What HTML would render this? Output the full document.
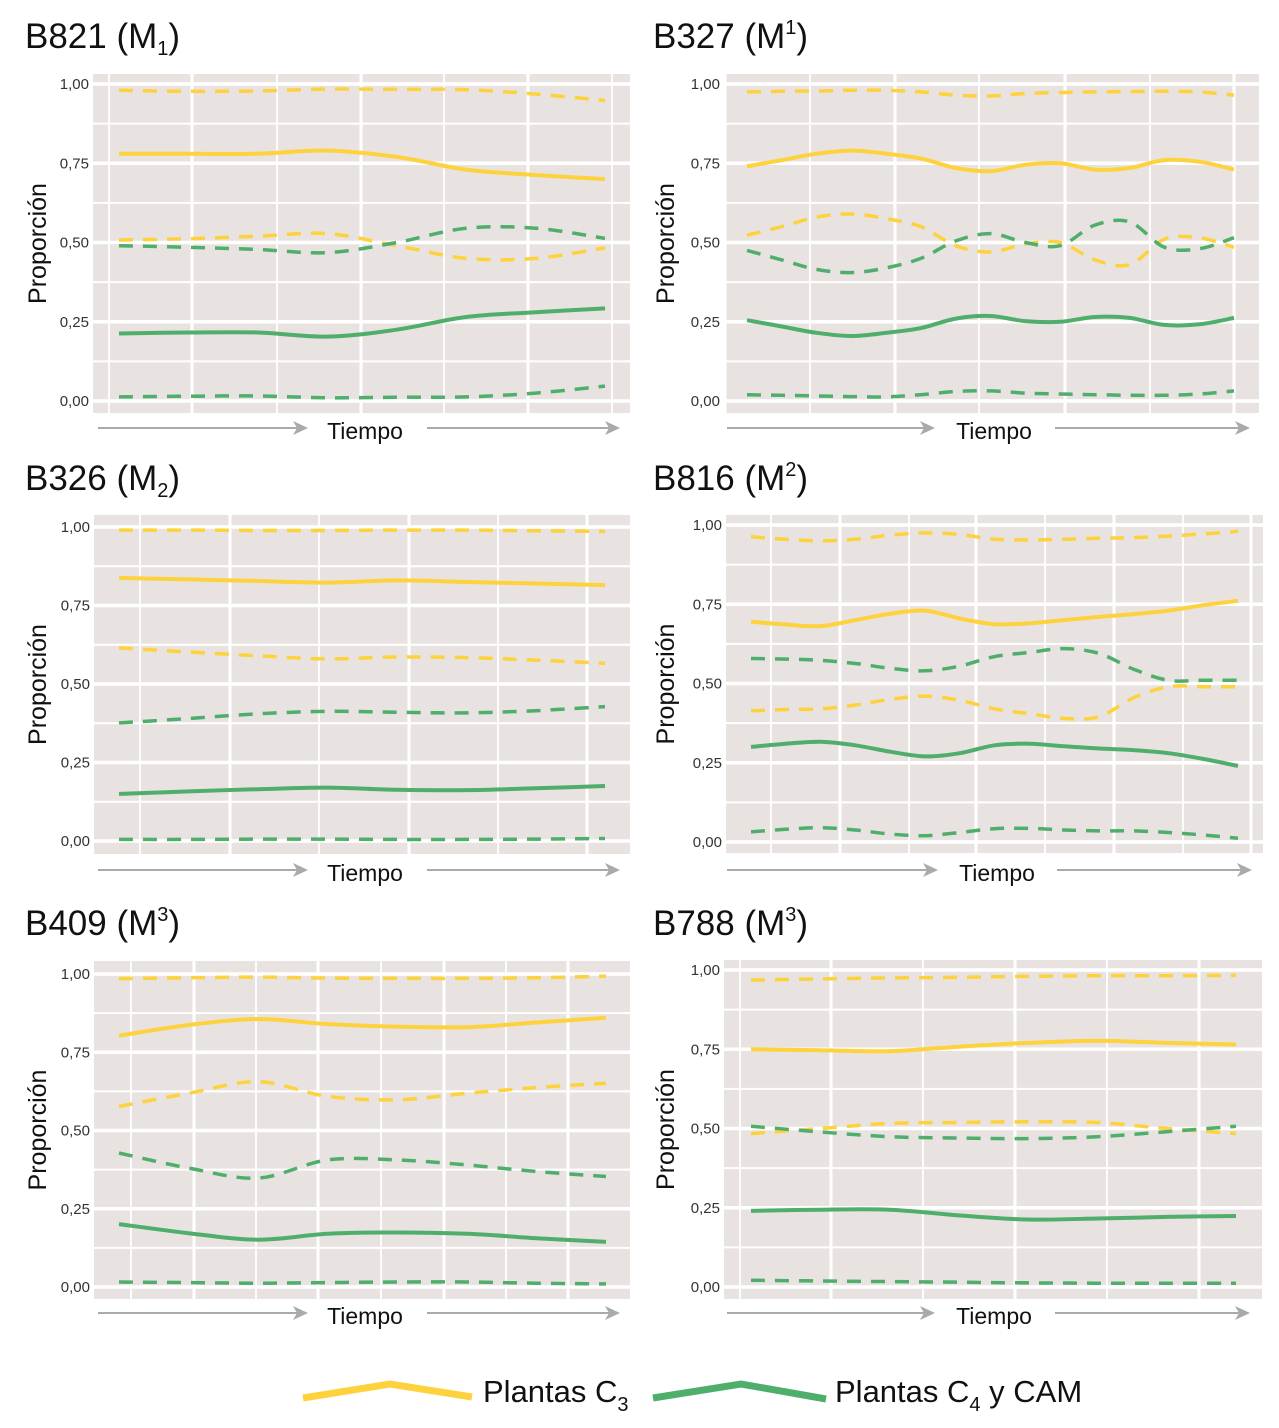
<!DOCTYPE html>
<html><head><meta charset="utf-8">
<style>
html,body{margin:0;padding:0;background:#fff;}
svg{display:block;font-family:"Liberation Sans Narrow","Liberation Sans",sans-serif;}
</style></head>
<body>
<svg id="chart" width="1279" height="1428" viewBox="0 0 1279 1428" xmlns="http://www.w3.org/2000/svg">
<g>
  <polyline points="303,1398 390,1384 472,1397" fill="none" stroke="#fdd23d" stroke-width="7"/>
  <text x="483" y="1402" font-size="31" fill="#111">Plantas C<tspan font-size="20" dy="9">3</tspan></text>
  <polyline points="653,1398 741,1384 826,1399" fill="none" stroke="#4fae6b" stroke-width="7"/>
  <text x="835" y="1402" font-size="31" fill="#111">Plantas C<tspan font-size="20" dy="9">4</tspan><tspan dy="-9"> y CAM</tspan></text>
</g>
</svg>
<script>
// ---- data (values 0..1 sampled at equal time steps) ----
const ticks = [0, 0.25, 0.5, 0.75, 1];
const tickLabels = ["0,00","0,25","0,50","0,75","1,00"];

const p1C3Up   = [.98,.977,.978,.984,.983,.982,.968,.948];
const p1C3Mean = [.78,.78,.78,.79,.77,.73,.713,.70];
const p1C3Low  = [.508,.512,.52,.528,.49,.45,.45,.483];
const p1C4Up   = [.49,.485,.478,.468,.50,.545,.545,.513];
const p1C4Mean = [.213,.216,.216,.203,.225,.265,.28,.292];
const p1C4Low  = [.013,.015,.016,.01,.012,.013,.025,.047];

const p2C3Up   = [.975,.977,.978,.98,.98,.975,.965,.962,.97,.973,.975,.976,.977,.975,.965];
const p2C3Mean = [.74,.76,.78,.79,.78,.765,.735,.725,.745,.75,.73,.735,.76,.755,.73];
const p2C3Low  = [.523,.55,.58,.59,.575,.55,.49,.47,.495,.50,.445,.43,.51,.515,.485];
const p2C4Up   = [.475,.445,.415,.405,.42,.45,.505,.528,.50,.49,.555,.565,.485,.48,.515];
const p2C4Mean = [.255,.235,.215,.205,.215,.23,.26,.268,.252,.25,.265,.262,.24,.242,.262];
const p2C4Low  = [.02,.018,.016,.014,.013,.02,.03,.032,.025,.022,.02,.018,.018,.022,.032];

const p3C3Up   = [.99,.99,.989,.989,.99,.99,.988,.986];
const p3C3Mean = [.838,.833,.828,.823,.83,.825,.82,.815];
const p3C3Low  = [.615,.602,.59,.58,.586,.584,.576,.566];
const p3C4Up   = [.376,.39,.405,.413,.41,.408,.415,.428];
const p3C4Mean = [.15,.158,.165,.17,.163,.162,.168,.175];
const p3C4Low  = [.005,.005,.006,.006,.005,.005,.006,.008];

const p4C3Up   = [.963,.955,.95,.955,.968,.975,.97,.955,.953,.955,.958,.96,.965,.972,.98];
const p4C3Mean = [.695,.686,.681,.70,.72,.73,.705,.687,.69,.70,.71,.719,.73,.747,.761];
const p4C3Low  = [.414,.418,.42,.432,.45,.46,.447,.42,.405,.39,.395,.455,.49,.49,.49];
const p4C4Up   = [.579,.577,.573,.563,.548,.54,.555,.585,.598,.61,.595,.545,.51,.51,.51];
const p4C4Mean = [.30,.31,.316,.305,.285,.27,.28,.305,.31,.302,.295,.29,.28,.262,.24];
const p4C4Low  = [.032,.04,.045,.038,.025,.02,.03,.042,.043,.038,.035,.035,.03,.022,.012];

const p5C3Up   = [.985,.988,.99,.987,.986,.986,.988,.993];
const p5C3Mean = [.803,.837,.856,.84,.832,.83,.845,.86];
const p5C3Low  = [.577,.619,.656,.609,.598,.619,.637,.651];
const p5C4Up   = [.428,.38,.348,.406,.406,.39,.369,.353];
const p5C4Mean = [.201,.172,.151,.17,.174,.17,.156,.144];
const p5C4Low  = [.016,.014,.012,.014,.016,.016,.012,.01];

const p6C3Up   = [.968,.972,.975,.977,.98,.982,.982,.983];
const p6C3Mean = [.75,.747,.744,.758,.77,.777,.77,.765];
const p6C3Low  = [.484,.50,.516,.519,.521,.519,.50,.484];
const p6C4Up   = [.507,.489,.474,.47,.468,.474,.49,.507];
const p6C4Mean = [.24,.244,.244,.226,.213,.216,.221,.224];
const p6C4Low  = [.021,.019,.017,.015,.013,.012,.012,.012];

const titles = ["B821","B327","B326","B816","B409","B788"];
const toothLabels = [["M","1","sub"],["M","1","sup"],["M","2","sub"],["M","2","sup"],["M","3","sup"],["M","3","sup"]];

// ---- layout ----
const layout = [
 {tx:25, ty:48, bx0:93, bx1:630, by0:74, by1:413, y1:84, y0:401, dx0:119, dx1:605, vl:[109,192,277,361,444,528,612], vmajor:1, ay:428, a1:[98,308], a2:[427,620], tc:365, data:[p1C3Up,p1C3Mean,p1C3Low,p1C4Up,p1C4Mean,p1C4Low]},
 {tx:653, ty:48, bx0:724, bx1:1259, by0:74, by1:413, y1:84, y0:401, dx0:747, dx1:1234, vl:[725,810,895,979,1065,1150,1234], vmajor:0, ay:428, a1:[727,935], a2:[1055,1250], tc:994, data:[p2C3Up,p2C3Mean,p2C3Low,p2C4Up,p2C4Mean,p2C4Low]},
 {tx:25, ty:490, bx0:94, bx1:630, by0:515, by1:854, y1:527, y0:841, dx0:119, dx1:605, vl:[140,230,319,409,498,587], vmajor:1, ay:870, a1:[98,308], a2:[427,620], tc:365, data:[p3C3Up,p3C3Mean,p3C3Low,p3C4Up,p3C4Mean,p3C4Low]},
 {tx:653, ty:490, bx0:726, bx1:1263, by0:515, by1:853, y1:525, y0:842, dx0:751, dx1:1238, vl:[771,840,909,976,1045,1114,1183,1251], vmajor:1, ay:870, a1:[727,938], a2:[1057,1252], tc:997, data:[p4C3Up,p4C3Mean,p4C3Low,p4C4Up,p4C4Mean,p4C4Low]},
 {tx:25, ty:935, bx0:94, bx1:630, by0:961, by1:1299, y1:974, y0:1287, dx0:119, dx1:606, vl:[131,194,256,318,381,444,506,568], vmajor:1, ay:1313, a1:[98,308], a2:[427,620], tc:365, data:[p5C3Up,p5C3Mean,p5C3Low,p5C4Up,p5C4Mean,p5C4Low]},
 {tx:653, ty:935, bx0:724, bx1:1262, by0:960, by1:1299, y1:970, y0:1287, dx0:751, dx1:1236, vl:[740,831,923,1015,1107,1199], vmajor:1, ay:1313, a1:[727,935], a2:[1055,1250], tc:994, data:[p6C3Up,p6C3Mean,p6C3Low,p6C4Up,p6C4Mean,p6C4Low]}
];
const seriesNames = ["c3-upper-bound","c3-mean","c3-lower-bound","c4-upper-bound","c4-mean","c4-lower-bound"];
const YEL="#fdd23d", GRN="#4fae6b";

const NS="http://www.w3.org/2000/svg";
const svg=document.getElementById('chart');
function mk(tag, parent){const e=document.createElementNS(NS,tag);parent.appendChild(e);return e;}

function smoothPath(pts){
  let d="M"+pts[0][0].toFixed(1)+","+pts[0][1].toFixed(1);
  for(let i=0;i<pts.length-1;i++){
    const p0=pts[Math.max(0,i-1)],p1=pts[i],p2=pts[i+1],p3=pts[Math.min(pts.length-1,i+2)];
    const c1x=p1[0]+(p2[0]-p0[0])/6,c1y=p1[1]+(p2[1]-p0[1])/6;
    const c2x=p2[0]-(p3[0]-p1[0])/6,c2y=p2[1]-(p3[1]-p1[1])/6;
    d+=" C"+c1x.toFixed(1)+","+c1y.toFixed(1)+" "+c2x.toFixed(1)+","+c2y.toFixed(1)+" "+p2[0].toFixed(1)+","+p2[1].toFixed(1);
  }
  return d;
}

layout.forEach((L,pi)=>{
  const g=mk('g',svg);
  
  
  const yS=v=>L.y0+(L.y1-L.y0)*v;

  // title
  const t=mk('text',g);
  
  
  t.setAttribute('x',L.tx);t.setAttribute('y',L.ty);
  t.setAttribute('font-size','35');t.setAttribute('fill','#111');
  const tl=toothLabels[pi];
  t.innerHTML=titles[pi]+' ('+tl[0]+'<tspan font-size="20" dy="'+(tl[2]==='sub'?7:-14)+'">'+tl[1]+'</tspan><tspan dy="'+(tl[2]==='sub'?-7:14)+'">)</tspan>';

  // background
  const bg=mk('rect',g);
  
  
  bg.setAttribute('x',L.bx0);bg.setAttribute('y',L.by0);
  bg.setAttribute('width',L.bx1-L.bx0);bg.setAttribute('height',L.by1-L.by0);
  bg.setAttribute('fill','#e8e3e0');

  // horizontal grid
  for(let k=0;k<=8;k++){
    const v=k/8;
    const ln=mk('line',g);
    
    
    ln.setAttribute('x1',L.bx0);ln.setAttribute('x2',L.bx1);
    ln.setAttribute('y1',yS(v));ln.setAttribute('y2',yS(v));
    ln.setAttribute('stroke','#fff');ln.setAttribute('stroke-width',k%2===0?3.5:2);
  }
  // vertical grid
  L.vl.forEach((x,i)=>{
    const ln=mk('line',g);
    
    
    ln.setAttribute('x1',x);ln.setAttribute('x2',x);
    ln.setAttribute('y1',L.by0);ln.setAttribute('y2',L.by1);
    ln.setAttribute('stroke','#fff');ln.setAttribute('stroke-width',(i%2===L.vmajor)?3:1.8);
  });
  // tick labels
  ticks.forEach((v,i)=>{
    const tx=mk('text',g);
    
    
    tx.setAttribute('x',L.bx0-4);tx.setAttribute('y',yS(v)+5);
    tx.setAttribute('text-anchor','end');tx.setAttribute('font-size','15');tx.setAttribute('fill','#333');
    tx.textContent=tickLabels[i];
  });
  // y axis title
  const yc=(L.by0+L.by1)/2;
  const yt=mk('text',g);
  
  
  yt.setAttribute('transform','translate('+(L.tx+21)+','+yc+') rotate(-90)');
  yt.setAttribute('text-anchor','middle');yt.setAttribute('font-size','25');yt.setAttribute('fill','#111');
  yt.textContent='Proporción';

  // x axis arrows + title
  [L.a1,L.a2].forEach(a=>{
    const ln=mk('line',g);
    
    
    ln.setAttribute('x1',a[0]);ln.setAttribute('x2',a[1]-8);
    ln.setAttribute('y1',L.ay);ln.setAttribute('y2',L.ay);
    ln.setAttribute('stroke','#aaa');ln.setAttribute('stroke-width','2');
    const hd=mk('polygon',g);
    
    
    hd.setAttribute('points',(a[1]-15)+','+(L.ay-7)+' '+a[1]+','+L.ay+' '+(a[1]-15)+','+(L.ay+7)+' '+(a[1]-11)+','+L.ay);
    hd.setAttribute('fill','#aaa');
  });
  const xt=mk('text',g);
  
  
  xt.setAttribute('x',L.tc);xt.setAttribute('y',L.ay+11);
  xt.setAttribute('text-anchor','middle');xt.setAttribute('font-size','23');xt.setAttribute('fill','#111');
  xt.textContent='Tiempo';

  // series
  L.data.forEach((arr,si)=>{
    const n=arr.length;
    const xS=i=>L.dx0+(L.dx1-L.dx0)*i/(n-1);
    const pts=arr.map((v,i)=>[xS(i),yS(v)]);
    const p=mk('path',g);
    
    
    p.setAttribute('d',smoothPath(pts));
    p.setAttribute('fill','none');
    p.setAttribute('stroke',si<3?YEL:GRN);
    if(si%3===1){p.setAttribute('stroke-width','4');}
    else{p.setAttribute('stroke-width','3.5');p.setAttribute('stroke-dasharray','14 10');}
  });
});
</script>
</body></html>
